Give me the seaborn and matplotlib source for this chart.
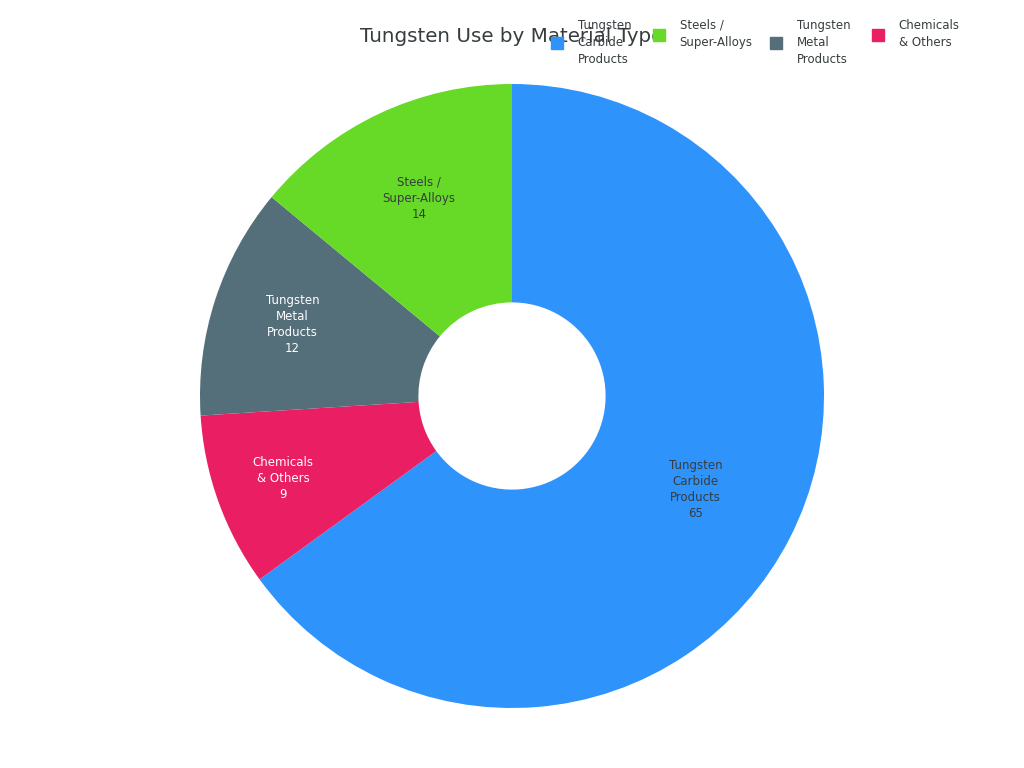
import numpy as np
import seaborn as sns
import matplotlib.pyplot as plt
from matplotlib.lines import Line2D

sns.set_theme(style="white")
plt.rcParams['font.family'] = ['DejaVu Sans']

# data, in drawing order (clockwise from 12 o'clock)
categories = ["Tungsten\nCarbide\nProducts", "Chemicals\n& Others",
              "Tungsten\nMetal\nProducts", "Steels /\nSuper-Alloys"]
values = [65, 9, 12, 14]
colors = ["#2E93FA", "#E91E63", "#546E7A", "#66DA26"]
text_colors = ["#373d3f", "#ffffff", "#ffffff", "#373d3f"]
legend_order = [0, 3, 2, 1]

fig = plt.figure(figsize=(10.24, 7.68), dpi=100)
ax = fig.add_axes([200 / 1024, 60 / 768, 624 / 1024, 624 / 768])

wedges, _ = ax.pie(values, colors=colors, startangle=90, counterclock=False,
                   radius=1.0, wedgeprops=dict(width=0.70, linewidth=0))
ax.set_xlim(-1, 1)
ax.set_ylim(-1, 1)
ax.set_aspect("equal")
ax.axis("off")

# labels in the middle of each slice
total = sum(values)
start = 90.0
label_r = [0.66, 0.78, 0.74, 0.70]
for i, (cat, v) in enumerate(zip(categories, values)):
    span = 360.0 * v / total
    mid = np.deg2rad(start - span / 2)
    start -= span
    ax.text(label_r[i] * np.cos(mid), label_r[i] * np.sin(mid), f"{cat}\n{v}",
            ha="center", va="center", fontsize=8.5, color=text_colors[i],
            linespacing=1.3)

fig.text(0.5, 1 - 36 / 768, "Tungsten Use by Material Type", ha="center",
         va="center", fontsize=14.3, color="#373d3f")

# legend: one small legend per entry so each block is top aligned
legend_x = [551, 653, 770, 872]
for x, i in zip(legend_x, legend_order):
    h = Line2D([0], [0], marker="s", linestyle="none", markersize=8,
               markerfacecolor=colors[i], markeredgecolor=colors[i])
    leg = fig.legend([h], [categories[i]], frameon=False, fontsize=8.5,
                     loc="upper left", bbox_to_anchor=(x / 1024, 1 - 19 / 768),
                     borderpad=0, borderaxespad=0, handlelength=1.0,
                     handletextpad=1.25, labelcolor="#373d3f")
    for t in leg.get_texts():
        t.set_linespacing(1.4)

fig.savefig("out.png", dpi=100, facecolor="white")
